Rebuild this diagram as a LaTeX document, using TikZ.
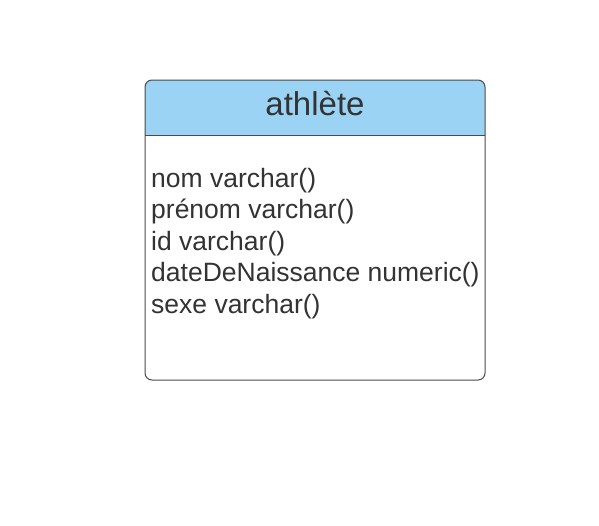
\documentclass[tikz,border=0pt]{standalone}
\usepackage{fontspec}
\setmainfont{Liberation Sans}
\definecolor{hdr}{HTML}{9AD3F3}
\definecolor{txt}{HTML}{333333}
\definecolor{brd}{HTML}{4A4A4A}
\begin{document}
\begin{tikzpicture}[x=1pt,y=-1pt,
  attr/.style={anchor=base west,inner sep=0pt,text=txt,font=\fontsize{26.5}{31.5}\selectfont}]
\useasboundingbox (0,0) rectangle (599,525);
\fill[white] (0,0) rectangle (599,525);
\begin{scope}
\clip[rounded corners=7pt] (145,80) rectangle (485,380);
\fill[hdr] (145,80) rectangle (485,135);
\end{scope}
\draw[brd,line width=1pt] (145,135) -- (485,135);
\draw[brd,line width=1pt,rounded corners=7pt] (145,80) rectangle (485,380);
\node[anchor=base,inner sep=0pt,text=txt,font=\fontsize{33}{38}\selectfont] (title) at (315,115) {athlète};
\node[attr] (a1) at (151,187) {nom varchar()};
\node[attr] (a2) at (151,218.5) {prénom varchar()};
\node[attr] (a3) at (151,250) {id varchar()};
\node[attr] (a4) at (151,281.5) {dateDeNaissance numeric()};
\node[attr] (a5) at (151,313) {sexe varchar()};
\end{tikzpicture}
\end{document}
